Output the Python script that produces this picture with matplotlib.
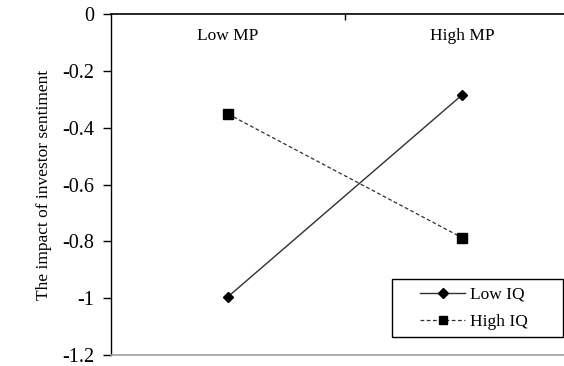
import matplotlib.pyplot as plt
from matplotlib.patches import Rectangle
from matplotlib.transforms import blended_transform_factory

# --------------------------
# Data
# --------------------------
categories = ["Low MP", "High MP"]
low_iq = [-0.995, -0.285]
high_iq = [-0.352, -0.787]
yticks = [0, -0.2, -0.4, -0.6, -0.8, -1, -1.2]
ytick_labels = ["0", "-0.2", "-0.4", "-0.6", "-0.8", "-1", "-1.2"]

plt.rcParams['font.family'] = ['Liberation Serif', 'DejaVu Serif']

W, H = 564, 366
fig = plt.figure(figsize=(W / 100, H / 100), dpi=100)
ax = fig.add_axes([111 / W, 1 - 355 / H, 468 / W, 341 / H])

x = list(range(len(categories)))
ax.plot(x, low_iq, color='#303030', linewidth=1.0, marker='D', markersize=5.5,
        markerfacecolor='black', markeredgecolor='black', label='Low IQ')
ax.plot(x, high_iq, color='#303030', linewidth=0.9, linestyle=(0, (3, 2)),
        marker='s', markersize=6.5, markerfacecolor='black',
        markeredgecolor='black', label='High IQ')

ax.set_xlim(-0.5, 1.5)
ax.set_ylim(-1.2, 0)
ax.set_yticks(yticks)
ax.set_yticklabels(ytick_labels, fontsize=14.5)
ax.tick_params(axis='y', direction='out', length=6, width=1, pad=6)

# category axis along the top (crosses at 0)
ax.xaxis.set_ticks_position('top')
ax.set_xticks([0.5])
ax.set_xticklabels([])
ax.tick_params(axis='x', direction='in', length=4, width=1)

trans = blended_transform_factory(ax.transData, ax.transAxes)
for xi, name in zip(x, categories):
    ax.text(xi, 0.935, name, transform=trans, ha='center', va='center',
            fontsize=12.5)

ax.spines['top'].set_color('black')
ax.spines['top'].set_linewidth(1.2)
ax.spines['left'].set_linewidth(1.0)
ax.spines['bottom'].set_color('#a0a0a0')
ax.spines['bottom'].set_linewidth(1.2)
ax.spines['right'].set_visible(False)

ax.set_ylabel("The impact of investor sentiment", fontsize=12.5, labelpad=7)

# legend box drawn by hand (wide padding on the left)
box = Rectangle((392 / W, 1 - 337 / H), 171 / W, 58 / H,
                transform=fig.transFigure, facecolor='white',
                edgecolor='black', linewidth=1.0, zorder=5, clip_on=False)
ax.add_patch(box)
leg = ax.legend(loc='center left', bbox_to_anchor=(420 / W, 1 - 308.5 / H),
                bbox_transform=fig.transFigure, fontsize=12.5, frameon=False,
                handlelength=2.6, borderpad=0, labelspacing=0.65,
                handletextpad=0.3, borderaxespad=0, markerscale=0.85)
leg.set_zorder(6)

plt.savefig("out.png", dpi=100)
